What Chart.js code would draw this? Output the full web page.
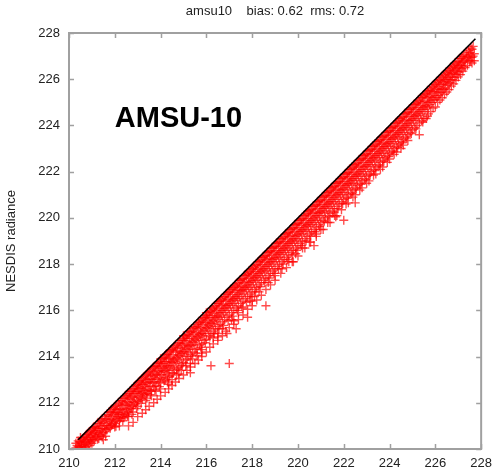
<!DOCTYPE html>
<html>
<head>
<meta charset="utf-8">
<script src="https://cdn.jsdelivr.net/npm/chart.js@4/dist/chart.umd.min.js"></script>
<style>
  html, body { margin: 0; padding: 0; background: #fff; }
  #c { display: block; }
</style>
</head>
<body>
<canvas id="c" width="499" height="475"></canvas>
<script>
// ---- data ----
const chartTitle = "amsu10    bias: 0.62  rms: 0.72";
const yAxisTitle = "NESDIS radiance";
const panelLabel = "AMSU-10";
const panelLabelAt = [212.0, 223.95];
const axisMin = 210;
const axisMax = 228;
const tickValues = [210, 212, 214, 216, 218, 220, 222, 224, 226, 228];
const diagonalX = [210.4, 227.75];
const diagonalY = [210.4, 227.75];
// rows: [x, y values observed at that x ...]
const scatterRows = [
  [210.3, 210.05, 210.25], [210.4, 210.1, 210.35], [210.5, 210.0, 210.3, 210.5],
  [210.6, 210.15, 210.45], [210.7, 210.2, 210.55, 210.0], [210.8, 210.3, 210.65],
  [210.9, 210.4, 210.75, 210.15], [211.0, 210.5, 210.85, 210.25], [211.1, 210.35, 210.7, 210.95],
  [211.2, 210.55, 210.9], [211.3, 210.45, 210.8, 211.1], [211.4, 210.6, 211.0, 211.25],
  [211.5, 210.7, 211.15, 210.4], [211.6, 210.85, 211.3, 210.55], [211.7, 211.0, 211.45],
  [211.8, 210.9, 211.2, 211.6], [211.9, 211.05, 211.4, 211.75], [212.0, 211.1, 211.55, 211.85, 210.95],
  [212.1, 211.3, 211.7], [212.2, 211.2, 211.5, 211.95, 211.0], [212.3, 211.4, 211.75, 212.1],
  [212.4, 211.35, 211.65, 212.2], [212.5, 211.55, 211.9, 212.3], [212.6, 211.6, 212.0, 212.4, 211.4],
  [212.7, 211.75, 212.15, 212.5], [212.8, 211.9, 212.3, 212.6, 211.6], [212.9, 211.95, 212.4, 212.75],
  [213.0, 212.05, 212.5, 212.85, 211.85], [213.1, 212.2, 212.6, 212.95], [213.2, 212.15, 212.45, 212.8, 213.05],
  [213.3, 212.35, 212.7, 213.15], [213.4, 212.4, 212.85, 213.25, 212.2], [213.5, 212.55, 212.9, 213.35],
  [213.6, 212.5, 213.0, 213.45, 212.3], [213.7, 212.7, 213.15, 213.55], [213.8, 212.75, 213.2, 213.6, 212.5],
  [213.9, 212.9, 213.35, 213.75], [214.0, 212.85, 213.3, 213.7, 213.9, 212.6], [214.1, 213.05, 213.5, 213.95],
  [214.2, 213.0, 213.4, 213.8, 214.05], [214.3, 213.2, 213.6, 214.1, 212.9], [214.4, 213.15, 213.55, 213.9, 214.25],
  [214.5, 213.3, 213.75, 214.3, 213.0], [214.6, 213.4, 213.85, 214.45], [214.7, 213.5, 213.95, 214.35, 213.2],
  [214.8, 213.55, 214.05, 214.6], [214.9, 213.7, 214.15, 214.55, 213.4], [215.0, 213.75, 214.2, 214.7, 214.9],
  [215.1, 213.85, 214.35, 214.8, 213.6], [215.2, 214.0, 214.45, 214.95], [215.3, 213.3, 214.1, 214.5, 215.05],
  [215.4, 214.2, 214.65, 215.1, 213.9], [215.5, 214.3, 214.75, 215.25], [215.6, 214.35, 214.85, 215.3, 214.05],
  [215.7, 214.5, 214.95, 215.45], [215.8, 214.55, 215.0, 215.5, 214.3], [215.9, 214.7, 215.15, 215.65],
  [216.0, 214.75, 215.25, 215.7, 215.9], [216.1, 214.9, 215.35, 215.8], [216.2, 213.6, 215.0, 215.45, 215.95],
  [216.3, 215.1, 215.55, 216.05, 214.8], [216.4, 215.2, 215.7, 216.15], [216.5, 215.3, 215.75, 216.3, 215.0],
  [216.6, 215.4, 215.9, 216.4], [216.7, 215.5, 216.0, 216.45, 215.2], [216.8, 215.6, 216.1, 216.6],
  [216.9, 215.0, 215.7, 216.2, 216.7], [217.0, 213.7, 215.8, 216.3, 216.8], [217.1, 215.9, 216.4, 216.9, 215.6],
  [217.2, 216.0, 216.5, 217.0], [217.3, 215.2, 216.1, 216.6, 217.05], [217.4, 216.2, 216.7, 217.15, 215.9],
  [217.5, 216.3, 216.85, 217.3], [217.6, 216.4, 216.9, 217.35, 216.1], [217.7, 216.5, 217.0, 217.5],
  [217.8, 215.7, 216.6, 217.1, 217.55], [217.9, 216.7, 217.2, 217.65, 216.4], [218.0, 216.8, 217.3, 217.8],
  [218.1, 216.9, 217.4, 217.85, 216.6], [218.2, 217.0, 217.5, 217.95], [218.3, 217.1, 217.6, 218.1, 216.8],
  [218.4, 217.2, 217.7, 218.15], [218.5, 217.3, 217.8, 218.3], [218.6, 216.2, 217.4, 217.9, 218.35],
  [218.7, 217.5, 218.0, 218.5, 217.2], [218.8, 217.6, 218.1, 218.55], [218.9, 217.7, 218.2, 218.7],
  [219.0, 217.8, 218.3, 218.75, 217.5], [219.1, 217.9, 218.4, 218.9], [219.2, 218.0, 218.5, 218.95],
  [219.3, 218.1, 218.6, 219.1, 217.8], [219.4, 218.2, 218.7, 219.15], [219.5, 218.3, 218.8, 219.3],
  [219.6, 218.4, 218.9, 219.35, 218.1], [219.7, 218.5, 219.0, 219.5], [219.8, 218.1, 218.6, 219.1, 219.55],
  [219.9, 218.7, 219.2, 219.7, 218.45], [220.0, 218.8, 219.3, 219.75], [220.1, 218.9, 219.4, 219.9],
  [220.2, 219.0, 219.5, 219.95, 218.7], [220.3, 219.1, 219.6, 220.1], [220.4, 219.2, 219.7, 220.15],
  [220.5, 219.3, 219.8, 220.3, 218.95], [220.6, 219.4, 219.9, 220.35], [220.7, 218.8, 219.5, 220.0, 220.5],
  [220.8, 219.6, 220.1, 220.55, 219.3], [220.9, 219.7, 220.2, 220.7], [221.0, 219.8, 220.3, 220.75, 219.5],
  [221.1, 219.9, 220.4, 220.9], [221.2, 220.0, 220.5, 220.95], [221.3, 220.1, 220.6, 221.1, 219.8],
  [221.4, 220.2, 220.7, 221.15], [221.5, 220.3, 220.8, 221.3], [221.6, 220.4, 220.9, 221.35, 220.1],
  [221.7, 220.1, 220.5, 221.0, 221.5], [221.8, 220.6, 221.1, 221.55], [221.9, 220.7, 221.2, 221.7],
  [222.0, 219.9, 220.8, 221.3, 221.75], [222.1, 220.9, 221.4, 221.9, 220.6], [222.2, 221.0, 221.5, 221.95],
  [222.3, 221.1, 221.6, 222.1], [222.4, 221.2, 221.7, 222.15, 220.9], [222.5, 220.65, 221.3, 221.8, 222.3],
  [222.6, 221.4, 221.9, 222.35], [222.7, 221.5, 222.0, 222.5, 221.2], [222.8, 221.6, 222.1, 222.55],
  [222.9, 221.7, 222.2, 222.7], [223.0, 221.8, 222.3, 222.75, 221.5], [223.1, 221.9, 222.4, 222.9],
  [223.2, 222.0, 222.5, 222.95], [223.3, 222.1, 222.6, 223.1, 221.85], [223.4, 222.2, 222.7, 223.15],
  [223.5, 222.3, 222.8, 223.3], [223.6, 222.4, 222.9, 223.35, 222.1], [223.7, 222.5, 223.0, 223.5],
  [223.8, 222.6, 223.1, 223.55], [223.9, 222.7, 223.2, 223.7, 222.4], [224.0, 222.8, 223.3, 223.75],
  [224.1, 222.9, 223.4, 223.9], [224.2, 223.0, 223.5, 223.95, 222.75], [224.3, 223.1, 223.6, 224.1],
  [224.4, 223.2, 223.7, 224.15], [224.5, 223.3, 223.8, 224.3, 223.0], [224.6, 223.4, 223.9, 224.35],
  [224.7, 223.5, 224.0, 224.5], [224.8, 223.6, 224.1, 224.55, 223.35], [224.9, 223.7, 224.2, 224.7],
  [225.0, 223.8, 224.3, 224.75], [225.1, 223.9, 224.4, 224.9], [225.2, 224.0, 224.5, 224.95],
  [225.3, 223.6, 224.1, 224.6, 225.05], [225.4, 224.2, 224.7, 225.2], [225.5, 224.3, 224.8, 225.25],
  [225.6, 224.3, 224.85, 225.35], [225.7, 224.5, 225.0, 225.45], [225.8, 224.6, 225.1, 225.5],
  [225.9, 224.75, 225.2, 225.65], [226.0, 224.8, 225.3, 225.75], [226.1, 225.0, 225.45, 225.85],
  [226.2, 225.1, 225.55, 225.95], [226.3, 225.2, 225.6, 226.05], [226.4, 225.35, 225.8, 226.15],
  [226.5, 225.45, 225.9, 226.25], [226.6, 225.55, 226.0, 226.35], [226.7, 225.7, 226.1, 226.45],
  [226.8, 225.8, 226.25, 226.55], [226.9, 225.95, 226.35, 226.65], [227.0, 226.1, 226.5, 226.75],
  [227.1, 226.2, 226.6, 226.9], [227.2, 226.35, 226.75, 227.0], [227.3, 226.5, 226.85],
  [227.4, 226.6, 227.0], [227.5, 226.75, 227.15], [227.6, 226.7, 227.3, 226.95], [227.7, 226.8, 227.1]
];
const scatterRowsB = [
  [210.35, 210.15, 210.0], [210.45, 210.3, 210.05], [210.55, 210.4, 210.12, 210.22],
  [210.65, 210.5, 210.08, 210.3], [210.75, 210.62, 210.38, 210.1], [210.85, 210.7, 210.22, 210.48],
  [210.95, 210.8, 210.58, 210.3], [211.05, 210.92, 210.62, 210.4], [211.15, 210.98, 210.52, 210.78],
  [211.25, 211.12, 210.68, 210.42], [211.35, 211.2, 210.9, 210.62], [211.45, 211.32, 210.88, 210.52],
  [211.55, 211.4, 211.02, 210.75], [211.65, 211.5, 211.1, 210.82], [211.75, 211.6, 211.25, 210.92],
  [211.85, 211.7, 211.3, 211.02], [211.95, 211.8, 211.48, 211.15], [212.05, 211.9, 211.6, 211.25, 210.98],
  [212.15, 212.0, 211.58, 211.38], [212.25, 212.08, 211.72, 211.33], [212.35, 212.2, 211.88, 211.5, 211.22],
  [212.45, 212.3, 211.95, 211.45], [212.55, 212.38, 212.05, 211.7, 211.42], [212.65, 212.5, 212.2, 211.78],
  [212.75, 212.6, 212.25, 211.85, 211.5], [212.85, 212.7, 212.4, 212.02], [212.95, 212.78, 212.5, 212.1, 211.75],
  [213.05, 212.9, 212.6, 212.25], [213.15, 212.98, 212.65, 212.3, 211.98], [213.25, 213.1, 212.78, 212.4],
  [213.35, 213.2, 212.9, 212.52, 212.1], [213.45, 213.3, 213.0, 212.6], [213.55, 213.38, 213.05, 212.72, 212.35],
  [213.65, 213.5, 213.2, 212.85], [213.75, 213.58, 213.25, 212.92, 212.55], [213.85, 213.7, 213.4, 213.02],
  [213.95, 213.78, 213.5, 213.1, 212.7], [214.05, 213.9, 213.58, 213.22], [214.15, 213.98, 213.7, 213.35, 212.95],
  [214.25, 214.1, 213.78, 213.42], [214.35, 214.2, 213.9, 213.5, 213.1], [214.45, 214.3, 213.98, 213.62],
  [214.55, 214.38, 214.08, 213.72, 213.28], [214.65, 214.5, 214.2, 213.8], [214.75, 214.58, 214.25, 213.9, 213.45],
  [214.85, 214.7, 214.4, 214.0], [214.95, 214.78, 214.48, 214.12, 213.62], [215.05, 214.9, 214.58, 214.22],
  [215.15, 214.98, 214.68, 214.3, 213.9], [215.25, 215.1, 214.78, 214.42], [215.35, 215.2, 214.88, 214.5, 214.02],
  [215.45, 215.3, 214.98, 214.6], [215.55, 215.38, 215.05, 214.7, 214.15], [215.65, 215.5, 215.2, 214.8],
  [215.75, 215.58, 215.25, 214.9, 214.4], [215.85, 215.7, 215.4, 215.0], [215.95, 215.78, 215.48, 215.1, 214.6],
  [216.05, 215.9, 215.58, 215.22], [216.15, 215.98, 215.68, 215.3, 214.85], [216.25, 216.1, 215.78, 215.42],
  [216.35, 216.2, 215.88, 215.5, 215.0], [216.45, 216.3, 215.98, 215.62], [216.55, 216.38, 216.08, 215.7, 215.2],
  [216.65, 216.5, 216.2, 215.8], [216.75, 216.58, 216.25, 215.9, 215.35], [216.85, 216.7, 216.4, 216.0],
  [216.95, 216.78, 216.48, 216.1, 215.55], [217.05, 216.9, 216.58, 216.22], [217.15, 216.98, 216.68, 216.3, 215.75],
  [217.25, 217.1, 216.78, 216.42], [217.35, 217.2, 216.88, 216.5, 216.0], [217.45, 217.3, 216.98, 216.6],
  [217.55, 217.38, 217.05, 216.7, 216.15], [217.65, 217.5, 217.2, 216.8], [217.75, 217.58, 217.25, 216.9, 216.35],
  [217.85, 217.7, 217.4, 217.0], [217.95, 217.78, 217.48, 217.1, 216.6], [218.05, 217.9, 217.58, 217.22],
  [218.15, 217.98, 217.68, 217.3, 216.8], [218.25, 218.1, 217.78, 217.42], [218.35, 218.2, 217.88, 217.5, 217.02],
  [218.45, 218.3, 217.98, 217.62], [218.55, 218.38, 218.08, 217.7, 217.2], [218.65, 218.5, 218.2, 217.8],
  [218.75, 218.58, 218.25, 217.9, 217.4], [218.85, 218.7, 218.4, 218.0], [218.95, 218.78, 218.48, 218.1, 217.6],
  [219.05, 218.9, 218.58, 218.22], [219.15, 218.98, 218.68, 218.3, 217.8], [219.25, 219.1, 218.78, 218.42],
  [219.35, 219.2, 218.88, 218.5, 218.0], [219.45, 219.3, 218.98, 218.6], [219.55, 219.38, 219.08, 218.7, 218.2],
  [219.65, 219.5, 219.2, 218.8], [219.75, 219.58, 219.25, 218.9, 218.4], [219.85, 219.7, 219.4, 219.0],
  [219.95, 219.78, 219.48, 219.1, 218.6], [220.05, 219.9, 219.58, 219.22], [220.15, 219.98, 219.68, 219.3, 218.8],
  [220.25, 220.1, 219.78, 219.42], [220.35, 220.2, 219.88, 219.5, 219.0], [220.45, 220.3, 219.98, 219.62],
  [220.55, 220.38, 220.08, 219.7, 219.22], [220.65, 220.5, 220.2, 219.8], [220.75, 220.58, 220.25, 219.9, 219.4],
  [220.85, 220.7, 220.4, 220.0], [220.95, 220.78, 220.48, 220.1, 219.62], [221.05, 220.9, 220.58, 220.22],
  [221.15, 220.98, 220.68, 220.3, 219.85], [221.25, 221.1, 220.78, 220.42], [221.35, 221.2, 220.88, 220.5, 220.05],
  [221.45, 221.3, 220.98, 220.6], [221.55, 221.38, 221.08, 220.7, 220.25], [221.65, 221.5, 221.2, 220.8],
  [221.75, 221.58, 221.25, 220.9, 220.4], [221.85, 221.7, 221.4, 221.0], [221.95, 221.78, 221.48, 221.1, 220.62],
  [222.05, 221.9, 221.58, 221.22], [222.15, 221.98, 221.68, 221.3, 220.85], [222.25, 222.1, 221.78, 221.42],
  [222.35, 222.2, 221.88, 221.5, 221.05], [222.45, 222.3, 221.98, 221.62], [222.55, 222.38, 222.08, 221.7, 221.25],
  [222.65, 222.5, 222.2, 221.8], [222.75, 222.58, 222.25, 221.9, 221.45], [222.85, 222.7, 222.4, 222.0],
  [222.95, 222.78, 222.48, 222.1, 221.65], [223.05, 222.9, 222.58, 222.22], [223.15, 222.98, 222.68, 222.3, 221.85],
  [223.25, 223.1, 222.78, 222.42], [223.35, 223.2, 222.88, 222.5, 222.05], [223.45, 223.3, 222.98, 222.6],
  [223.55, 223.38, 223.08, 222.7, 222.25], [223.65, 223.5, 223.2, 222.8], [223.75, 223.58, 223.25, 222.9, 222.45],
  [223.85, 223.7, 223.4, 223.0], [223.95, 223.78, 223.48, 223.1, 222.65], [224.05, 223.9, 223.58, 223.22],
  [224.15, 223.98, 223.68, 223.3, 222.85], [224.25, 224.1, 223.78, 223.42], [224.35, 224.2, 223.88, 223.5, 223.05],
  [224.45, 224.3, 223.98, 223.62], [224.55, 224.38, 224.08, 223.7, 223.25], [224.65, 224.5, 224.2, 223.8],
  [224.75, 224.58, 224.25, 223.9, 223.45], [224.85, 224.7, 224.4, 224.0], [224.95, 224.78, 224.48, 224.1, 223.65],
  [225.05, 224.9, 224.58, 224.22], [225.15, 224.98, 224.68, 224.3, 223.85], [225.25, 225.1, 224.78, 224.42],
  [225.35, 225.2, 224.88, 224.5], [225.45, 225.3, 224.98, 224.6, 224.15], [225.55, 225.38, 225.05, 224.7],
  [225.65, 225.5, 225.2, 224.8, 224.4], [225.75, 225.58, 225.25, 224.9], [225.85, 225.7, 225.4, 225.0],
  [225.95, 225.78, 225.48, 225.1], [226.05, 225.9, 225.58, 225.22], [226.15, 225.98, 225.68, 225.3],
  [226.25, 226.1, 225.78, 225.42], [226.35, 226.2, 225.88, 225.55], [226.45, 226.3, 225.98, 225.62],
  [226.55, 226.38, 226.08, 225.75], [226.65, 226.5, 226.2, 225.85], [226.75, 226.58, 226.28, 225.98],
  [226.85, 226.7, 226.4, 226.08], [226.95, 226.78, 226.48, 226.2], [227.05, 226.9, 226.6, 226.32],
  [227.15, 226.98, 226.7, 226.45], [227.25, 227.08, 226.8, 226.55], [227.35, 227.18, 226.9],
  [227.45, 227.25, 226.95], [227.55, 227.35, 227.05, 226.8], [227.65, 227.42, 227.0]
];
// lower-edge points of the band
const scatterRowsC = [
  [212.6, 211.0], [212.8, 211.15], [213.0, 211.4], [213.2, 211.55], [213.35, 211.7], [213.5, 211.85],
  [213.7, 212.0], [213.85, 212.15], [214.0, 212.3], [214.2, 212.45], [214.35, 212.6, 212.8], [214.5, 212.75],
  [214.65, 212.9], [214.8, 213.05, 213.25], [215.0, 213.2], [215.15, 213.4], [215.3, 213.55, 213.7],
  [215.5, 213.7], [215.65, 213.85], [215.8, 214.0, 214.15], [216.0, 214.2], [216.15, 214.4], [216.3, 214.55],
  [216.5, 214.7, 214.85], [216.7, 214.9], [216.85, 215.1], [217.0, 215.25], [217.2, 215.4, 215.55],
  [217.4, 215.6], [217.6, 215.8], [217.8, 216.05], [218.0, 216.2, 216.4], [218.2, 216.45], [218.4, 216.65],
  [218.6, 216.9], [218.8, 217.1], [219.0, 217.3], [219.25, 217.6], [219.5, 217.85], [219.75, 218.1],
  [220.0, 218.35], [220.3, 218.7], [220.55, 218.95], [220.8, 219.2], [221.1, 219.5], [221.4, 219.8],
  [221.65, 220.05], [221.9, 220.35], [222.2, 220.65], [222.5, 221.0], [222.8, 221.3], [223.1, 221.6],
  [223.4, 221.9], [223.7, 222.2], [224.0, 222.55], [224.3, 222.85], [224.6, 223.15]
];

// ---- build datasets from the rows ----
const scatterPoints = [];
[scatterRows, scatterRowsB, scatterRowsC].forEach(rows => rows.forEach(r => {
  for (let i = 1; i < r.length; i++) scatterPoints.push({ x: r[0], y: r[i] });
}));
const diagonalPoints = diagonalX.map((x, i) => ({ x: x, y: diagonalY[i] }));

const FONT = "'Liberation Sans', Arial, Helvetica, sans-serif";
const AXIS_GREY = '#a0a0a0';

const framePlugin = {
  id: 'frame',
  afterDatasetsDraw(chart) {
    const { ctx, chartArea: a, scales } = chart;
    ctx.save();
    ctx.strokeStyle = AXIS_GREY;
    ctx.lineWidth = 2;
    ctx.strokeRect(a.left, a.top, a.right - a.left, a.bottom - a.top);
    ctx.lineWidth = 1.5;
    const tl = 5;
    ctx.beginPath();
    tickValues.forEach(v => {
      const px = Math.round(scales.x.getPixelForValue(v)) + 0.5;
      ctx.moveTo(px, a.bottom); ctx.lineTo(px, a.bottom - tl);
      ctx.moveTo(px, a.top); ctx.lineTo(px, a.top + tl);
      const py = Math.round(scales.y.getPixelForValue(v)) + 0.5;
      ctx.moveTo(a.left, py); ctx.lineTo(a.left + tl, py);
      ctx.moveTo(a.right, py); ctx.lineTo(a.right - tl, py);
    });
    ctx.stroke();
    // panel label
    ctx.fillStyle = '#000';
    ctx.font = "bold 29px " + FONT;
    ctx.textAlign = 'left';
    ctx.textBaseline = 'alphabetic';
    ctx.fillText(panelLabel, scales.x.getPixelForValue(panelLabelAt[0]), scales.y.getPixelForValue(panelLabelAt[1]));
    ctx.restore();
  }
};

new Chart(document.getElementById('c'), {
  type: 'scatter',
  data: {
    datasets: [
      {
        type: 'line',
        data: diagonalPoints,
        borderColor: '#000',
        borderWidth: 1.6,
        pointRadius: 0,
        fill: false,
        order: 0
      },
      {
        data: scatterPoints,
        pointStyle: 'cross',
        pointRadius: 4.5,
        pointBorderWidth: 1.4,
        borderColor: 'rgba(255,0,0,0.7)',
        backgroundColor: 'rgba(255,0,0,0.7)',
        pointHoverRadius: 4.5,
        order: 1
      }
    ]
  },
  options: {
    responsive: false,
    animation: false,
    devicePixelRatio: 1,
    layout: { padding: { left: 0, right: 14, top: 0, bottom: 0 } },
    plugins: {
      legend: { display: false },
      tooltip: { enabled: false },
      title: {
        display: true,
        text: chartTitle,
        fullSize: false,
        color: '#222',
        font: { family: FONT, size: 13, weight: 'normal' },
        padding: { top: 4, bottom: 13.4 }
      }
    },
    scales: {
      x: {
        type: 'linear',
        min: axisMin, max: axisMax,
        afterFit: s => { s.height = 26; },
        afterBuildTicks: s => { s.ticks = tickValues.map(v => ({ value: v })); },
        ticks: { color: '#222', font: { family: FONT, size: 13 }, padding: 7, maxRotation: 0, autoSkip: false },
        grid: { display: true, drawOnChartArea: false, drawTicks: false, color: 'rgba(0,0,0,0)' },
        border: { display: false }
      },
      y: {
        type: 'linear',
        min: axisMin, max: axisMax,
        afterFit: s => { s.width = 69; },
        afterBuildTicks: s => { s.ticks = tickValues.map(v => ({ value: v })); },
        ticks: { color: '#222', font: { family: FONT, size: 13 }, padding: 9, autoSkip: false },
        grid: { display: true, drawOnChartArea: false, drawTicks: false, color: 'rgba(0,0,0,0)' },
        border: { display: false },
        title: {
          display: true,
          text: yAxisTitle,
          color: '#222',
          font: { family: FONT, size: 13 },
          padding: { top: 4, bottom: 0 }
        }
      }
    }
  },
  plugins: [framePlugin]
});
</script>
</body>
</html>
